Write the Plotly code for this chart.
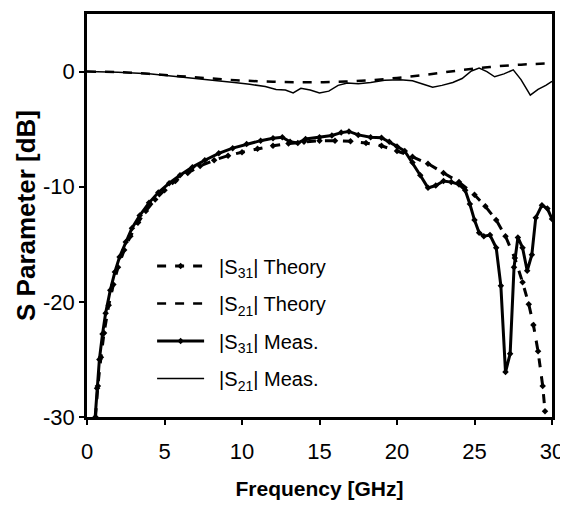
import plotly.graph_objects as go

# |S31| theory
f_s31_th = [0.55, 0.7, 0.9, 1.1, 1.4, 1.7, 2.0, 2.4, 2.8, 3.3, 3.8, 4.4, 5.0, 5.7, 6.5, 7.3,
            8.2, 9.1, 10.0, 11.0, 12.0, 13.0, 14.0, 15.0, 16.0, 17.0, 18.0, 19.0, 20.0, 21.0,
            22.0, 23.0, 24.0, 25.0, 25.7, 26.4, 27.0, 27.6, 28.1, 28.5, 28.8, 29.1, 29.4, 29.55]
s31_th = [-30, -27.3, -24.8, -22.7, -20.3, -18.5, -17.0, -15.5, -14.3, -13.1, -12.1, -11.1,
          -10.3, -9.5, -8.8, -8.2, -7.7, -7.3, -7.0, -6.7, -6.45, -6.25, -6.1, -6.0, -6.0,
          -6.05, -6.2, -6.45, -6.9, -7.4, -8.0, -8.8, -9.6, -10.7, -11.7, -12.9, -14.3,
          -16.2, -18.3, -20.2, -22.0, -24.3, -27.3, -29.5]

# |S21| theory
f_s21_th = [0, 2, 4, 6, 8, 10, 12, 14, 16, 18, 20, 22, 24, 26, 28, 30]
s21_th = [0, -0.05, -0.2, -0.4, -0.6, -0.78, -0.88, -0.93, -0.9, -0.78, -0.55, -0.25,
          0.1, 0.4, 0.6, 0.72]

# |S31| measured
f_s31_me = [0.5, 0.65, 0.8, 1.0, 1.2, 1.5, 1.8, 2.1, 2.5, 2.9, 3.4, 4.0, 4.6, 5.3, 6.0, 6.8,
            7.6, 8.5, 9.4, 10.3, 11.2, 12.0, 12.6, 13.1, 13.6, 14.1, 15.0, 15.8, 16.4, 16.9,
            17.5, 18.3, 19.0, 19.5, 20.0, 20.5, 21.0, 21.5, 22.0, 22.5, 23.0, 23.5, 24.0,
            24.4, 24.7, 25.0, 25.3, 25.6, 26.0, 26.4, 26.7, 27.0, 27.3, 27.55, 27.8, 28.1,
            28.4, 28.7, 28.95, 29.35, 29.7, 30.0]
s31_me = [-30.5, -27.5, -25.0, -22.8, -21.0, -19.0, -17.4, -16.1, -14.8, -13.6, -12.5,
          -11.4, -10.5, -9.7, -9.0, -8.3, -7.7, -7.1, -6.65, -6.3, -6.0, -5.8, -5.7, -6.1,
          -6.2, -5.85, -5.7, -5.55, -5.3, -5.2, -5.5, -5.7, -5.75, -6.1, -6.5, -6.9, -7.9,
          -9.0, -10.1, -9.9, -9.5, -9.6, -9.8, -10.3, -11.5, -12.9, -14.0, -14.3, -14.2,
          -15.3, -18.6, -26.1, -24.5, -17.0, -14.4, -15.3, -17.3, -15.9, -12.7, -11.6,
          -11.9, -12.8]

# |S21| measured
f_s21_me = [0, 2, 4, 6, 8, 9.5, 10.5, 11.5, 12.2, 12.8, 13.3, 13.8, 14.4, 15.0, 15.6, 16.2,
            16.8, 17.5, 18.3, 19.2, 20.2, 21.0, 21.7, 22.3, 22.9, 23.6, 24.2, 24.8, 25.3,
            25.8, 26.3, 26.9, 27.5, 28.0, 28.6, 29.1, 29.6, 30.0]
s21_me = [0, -0.05, -0.2, -0.45, -0.7, -0.95, -1.1, -1.3, -1.55, -1.6, -1.85, -1.45, -1.6,
          -1.85, -1.7, -1.2, -1.0, -1.05, -0.95, -0.75, -0.7, -0.8, -1.1, -1.35, -1.2, -0.95,
          -0.6, 0.05, 0.3, 0.0, -0.45, -0.2, 0.15, -0.7, -2.05, -1.55, -1.2, -0.85]

x_ticks = [0, 5, 10, 15, 20, 25, 30]
x_labels = ["0", "5", "10", "15", "20", "25", "30"]
y_ticks = [-30, -20, -10, 0]
y_labels = ["-30", "-20", "-10", "0"]

names = ["\u2002|S<sub>31</sub>| Theory", "\u2002|S<sub>21</sub>| Theory",
         "\u2002|S<sub>31</sub>| Meas.", "\u2002|S<sub>21</sub>| Meas."]

REG = "Liberation Sans, Arial, sans-serif"

fig = go.Figure()
fig.add_trace(go.Scatter(x=f_s31_th, y=s31_th, name=names[0], legendgroup="a",
                         mode="lines+markers",
                         line=dict(color="black", width=3, dash="dash"),
                         marker=dict(symbol="diamond", size=5, color="black")))
fig.add_trace(go.Scatter(x=f_s21_th, y=s21_th, name=names[1], legendgroup="b",
                         mode="lines", line=dict(color="black", width=2.5, dash="dash",
                                                  shape="spline")))
fig.add_trace(go.Scatter(x=f_s31_me, y=s31_me, name=names[2], legendgroup="c",
                         mode="lines+markers",
                         line=dict(color="black", width=3),
                         marker=dict(symbol="diamond", size=5, color="black")))
fig.add_trace(go.Scatter(x=f_s21_me, y=s21_me, name=names[3], legendgroup="d",
                         mode="lines", line=dict(color="black", width=1.5)))

fig.update_layout(
    width=560, height=498,
    margin=dict(l=79, r=16, t=6, b=89),
    paper_bgcolor="white", plot_bgcolor="white",
    font=dict(family=REG, size=22, color="black"),
    legend=dict(x=0.14, y=0.423, xanchor="left", yanchor="top",
                bgcolor="rgba(0,0,0,0)", borderwidth=0,
                font=dict(family=REG, size=20, color="black"),
                itemwidth=47, tracegroupgap=8.5, traceorder="grouped"),
    showlegend=True,
)
fig.update_xaxes(range=[0, 30], tickvals=x_ticks, ticktext=x_labels, ticks="outside",
                 ticklen=5, tickwidth=1.5, tickcolor="black", automargin=False,
                 ticklabelstandoff=8,
                 showline=True, linecolor="black", linewidth=2.5, mirror=True,
                 showgrid=False, zeroline=False,
                 tickfont=dict(family=REG, size=22),
                 title=dict(text="<b>Frequency [GHz]</b>", standoff=19,
                            font=dict(family=REG, size=21)))
fig.update_yaxes(range=[-30, 5], tickvals=y_ticks, ticktext=y_labels, ticks="outside",
                 ticklen=5, tickwidth=1.5, tickcolor="black", automargin=False,
                 ticklabelstandoff=0,
                 showline=True, linecolor="black", linewidth=2.5, mirror=True,
                 showgrid=False, zeroline=False,
                 tickfont=dict(family=REG, size=22),
                 title=dict(text="<b>S Parameter [dB]</b>", standoff=0,
                            font=dict(family=REG, size=26)))

fig.write_html("out.html")
